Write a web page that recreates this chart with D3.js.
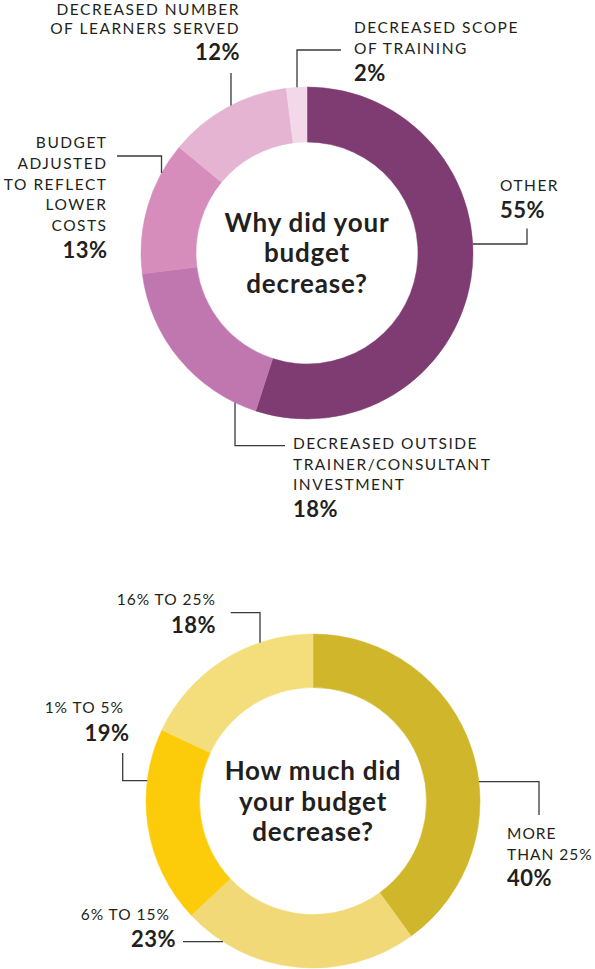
<!DOCTYPE html>
<html>
<head>
<meta charset="utf-8">
<script src="https://cdnjs.cloudflare.com/ajax/libs/d3/7.8.5/d3.min.js"></script>
<style>
  body { margin: 0; background: #fff; }
  svg { display: block; }
  text { font-family: Lato, "Open Sans", sans-serif; fill: #231f20; }
</style>
</head>
<body>
<div id="chart"></div>
<script>
// data
var reasonNames = [
  ["OTHER"],
  ["DECREASED OUTSIDE", "TRAINER/CONSULTANT", "INVESTMENT"],
  ["BUDGET", "ADJUSTED", "TO REFLECT", "LOWER", "COSTS"],
  ["DECREASED NUMBER", "OF LEARNERS SERVED"],
  ["DECREASED SCOPE", "OF TRAINING"]
];
var reasonValues = [55, 18, 13, 12, 2];
var reasonColors = ["#7f3c72", "#c077b0", "#d68dbb", "#e4b4d2", "#f2d8e9"];

var amountNames = [
  ["MORE", "THAN 25%"],
  ["6% TO 15%"],
  ["1% TO 5%"],
  ["16% TO 25%"]
];
var amountValues = [40, 23, 19, 18];
var amountColors = ["#d0b62b", "#f1d977", "#fccc0b", "#f4de7b"];

var W = 595, H = 969;

var svg = d3.select("#chart").append("svg")
    .attr("width", W)
    .attr("height", H);

// where each label sits, and how its leader reaches the ring
var reasonLayout = [
  {anchor: "start", x: 500, y: 190.7, pctX: 500, pctY: 217.7, path: [[527, 228.5], [527, 244]], hit: {y: 244, side: 1}},
  {anchor: "start", x: 293, y: 449, pctX: 293, pctY: 517.3, path: [[285, 445.7], [235, 445.7]], hit: {x: 235, side: 1}},
  {anchor: "end", x: 107.5, y: 148.3, pctX: 107.5, pctY: 258.3, path: [[117, 156], [161.5, 156]], hit: {x: 161.5, side: -1}},
  {anchor: "end", x: 240, y: 15.3, gap: 18.5, pctX: 240, pctY: 60, path: [[231, 73]], hit: {x: 231, side: -1}},
  {anchor: "start", x: 354, y: 33.3, pctX: 354, pctY: 81, path: [[341, 50], [297, 50]], hit: {x: 297, side: -1}}
];

var amountLayout = [
  {anchor: "start", x: 507, y: 839.3, pctX: 507, pctY: 886, path: [[539, 815], [539, 781.7]], hit: {y: 781.7, side: 1}},
  {anchor: "end", x: 170, y: 920, pctX: 176, pctY: 946.7, path: [[183, 941.7]], hit: {y: 941.7, side: -1}},
  {anchor: "end", x: 124, y: 713.3, pctX: 129.5, pctY: 741, path: [[122.7, 753], [122.7, 780.7]], hit: {y: 780.7, side: -1}},
  {anchor: "end", x: 216, y: 605, pctX: 216, pctY: 632.7, path: [[230.7, 612.7], [260, 612.7]], hit: {x: 260, side: -1}}
];

function donut(opts) {
  var pie = d3.pie().sort(null).value(function (d) { return d; });
  var arc = d3.arc().innerRadius(opts.r).outerRadius(opts.R);
  var arcs = pie(opts.values);

  var g = svg.append("g")
      .attr("transform", "translate(" + opts.cx + "," + opts.cy + ")");

  g.selectAll("path")
    .data(arcs)
    .enter().append("path")
      .attr("d", arc)
      .attr("fill", function (d, i) { return opts.colors[i]; })
      .attr("stroke", function (d, i) { return opts.colors[i]; })
      .attr("stroke-width", 0.5);

  // title in the hole
  var title = g.append("text")
      .attr("text-anchor", "middle")
      .style("font-weight", 700)
      .style("font-size", "26px")
      .style("letter-spacing", "0.8px");
  opts.title.forEach(function (t, i) {
    title.append("tspan")
      .attr("x", 0)
      .attr("y", opts.titleY + i * 30.5)
      .text(t);
  });

  // leader lines, last point lands on the outer edge
  var line = d3.line();
  opts.layout.forEach(function (L, i) {
    var pts = L.path.slice();
    var end;
    if (L.hit.x !== undefined) {
      var dx = L.hit.x - opts.cx;
      end = [L.hit.x, opts.cy + L.hit.side * Math.sqrt(opts.R * opts.R - dx * dx)];
    } else {
      var dy = L.hit.y - opts.cy;
      end = [opts.cx + L.hit.side * Math.sqrt(opts.R * opts.R - dy * dy), L.hit.y];
    }
    pts.push(end);
    svg.append("path")
      .attr("d", line(pts))
      .attr("fill", "none")
      .attr("stroke", "#3a3a3a")
      .attr("stroke-width", 1.3);

    var gap = L.gap || 20.6;
    var lbl = svg.append("text")
        .attr("text-anchor", L.anchor)
        .style("font-size", "15.5px")
        .style("letter-spacing", opts.spacing + "px");
    opts.names[i].forEach(function (t, j) {
      lbl.append("tspan")
        .attr("x", L.x)
        .attr("y", L.y + j * gap)
        .text(t);
    });

    svg.append("text")
      .attr("x", L.pctX)
      .attr("y", L.pctY)
      .attr("text-anchor", L.anchor)
      .style("font-weight", 700)
      .style("font-size", "22px")
      .style("letter-spacing", "0.5px")
      .text(opts.values[i] + "%");
  });
}

donut({
  cx: 307, cy: 253, R: 166, r: 111, spacing: 1.5,
  values: reasonValues, colors: reasonColors, names: reasonNames,
  layout: reasonLayout,
  title: ["Why did your", "budget", "decrease?"], titleY: -21.3
});

donut({
  cx: 313, cy: 801, R: 167, r: 113.5, spacing: 1.0,
  values: amountValues, colors: amountColors, names: amountNames,
  layout: amountLayout,
  title: ["How much did", "your budget", "decrease?"], titleY: -21
});
</script>
</body>
</html>
